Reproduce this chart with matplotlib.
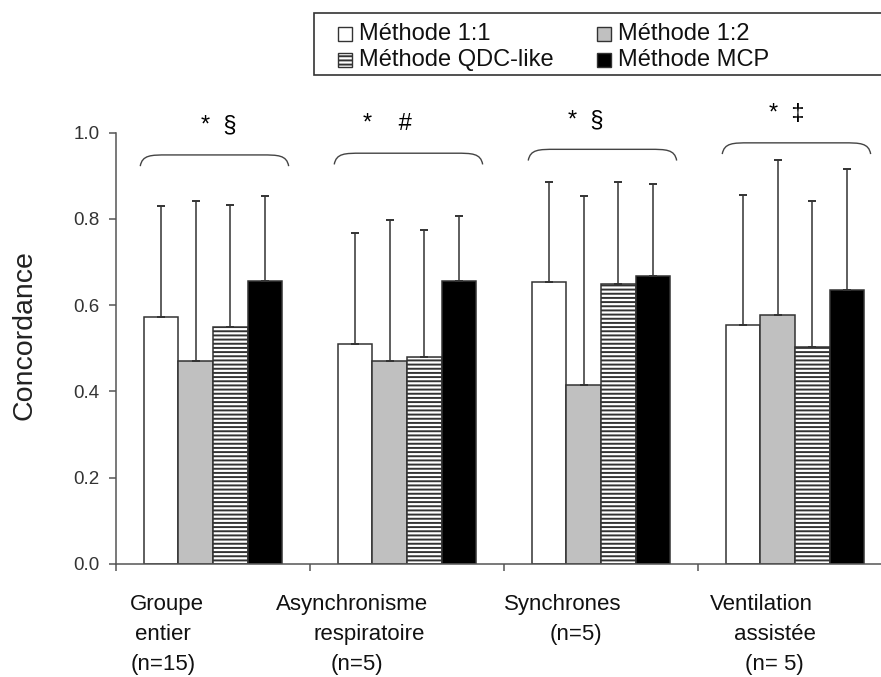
import numpy as np
import matplotlib
matplotlib.use('Agg')
import matplotlib.pyplot as plt
from matplotlib.patches import Rectangle, PathPatch
from matplotlib.path import Path

plt.rcParams['font.family'] = ['Liberation Sans', 'DejaVu Sans']
plt.rcParams['hatch.linewidth'] = 1.4
plt.rcParams['hatch.color'] = '#222222'

# data
groups = ['Groupe entier', 'Asynchronisme respiratoire', 'Synchrones', 'Ventilation assistée']
methods = ['Méthode 1:1', 'Méthode 1:2', 'Méthode QDC-like', 'Méthode MCP']
m_11 = [0.572, 0.509, 0.653, 0.553]
sd_11 = [0.258, 0.259, 0.233, 0.303]
m_12 = [0.470, 0.470, 0.415, 0.576]
sd_12 = [0.372, 0.328, 0.438, 0.360]
m_qdc = [0.549, 0.480, 0.648, 0.504]
sd_qdc = [0.283, 0.294, 0.238, 0.338]
m_mcp = [0.656, 0.656, 0.668, 0.635]
sd_mcp = [0.197, 0.150, 0.212, 0.280]

# significance marks above each group
sig_labels = ['*  §', '*    #', '*  §', '*  ‡']
sig_xoff = [0.03, -0.1, -0.08, -0.04]
bracket_top = [0.948, 0.952, 0.961, 0.976]

# category labels, one list of lines per group
label_lines = [['Groupe', 'entier', '(n=15)'],
               ['Asynchronisme', 'respiratoire', '(n=5)'],
               ['Synchrones', '(n=5)'],
               ['Ventilation', 'assistée', '(n= 5)']]
label_xoff = [[-0.237, -0.258, -0.258],
              [-0.286, -0.193, -0.260],
              [-0.196, -0.129],
              [-0.175, -0.103, -0.108]]

means = [m_11, m_12, m_qdc, m_mcp]
sds = [sd_11, sd_12, sd_qdc, sd_mcp]
faces = ['white', '#c0c0c0', 'white', 'black']
hatches = [None, None, '----', None]

W, H = 881, 677
fig = plt.figure(figsize=(W / 100.0, H / 100.0), dpi=100)
ax = fig.add_axes([116.0 / W, (H - 564.0) / H, 776.0 / W, 431.5 / H])

x = np.arange(len(groups))
bw = 0.179
for i in range(4):
    pos = x + (i - 1.5) * bw
    ax.bar(pos, means[i], bw, color=faces[i], edgecolor='#333333',
           linewidth=1.1, hatch=hatches[i], zorder=2)
    ax.errorbar(pos, means[i], yerr=[np.zeros(4), sds[i]], fmt='none',
                ecolor='#333333', elinewidth=1.1, capsize=2.8,
                capthick=1.4, zorder=3)

ax.set_xlim(-0.5, 3.5)
ax.set_ylim(0, 1.0)
ax.set_yticks(np.arange(0, 1.01, 0.2))
ax.set_yticklabels(['%.1f' % v for v in np.arange(0, 1.01, 0.2)])
ax.set_xticks(np.arange(-0.5, 3.6, 1.0))
ax.set_xticklabels([])
ax.spines['right'].set_color('none')
ax.spines['top'].set_color('none')
ax.spines['left'].set_color('#555555')
ax.spines['bottom'].set_color('#555555')
ax.spines['left'].set_linewidth(1.1)
ax.spines['bottom'].set_linewidth(1.1)
ax.tick_params(axis='y', direction='out', length=5, width=1.1,
               color='#555555', labelsize=13.5, labelcolor='#333333', pad=7)
ax.tick_params(axis='x', direction='out', length=5, width=1.1, color='#555555')
ax.set_ylabel('Concordance', fontsize=20.5, color='#222222')
ax.yaxis.set_label_coords(-0.101, 0.53)

# brackets and marks
for g in range(4):
    x0 = g - 0.375
    x1 = g + 0.39
    yt = bracket_top[g]
    yb = yt - 0.026
    dx = 0.14
    verts = [(x0, yb), (x0 + 0.01, yt), (x0 + dx * 0.4, yt), (x0 + dx, yt),
             (x1 - dx, yt),
             (x1 - dx * 0.4, yt), (x1 - 0.01, yt), (x1, yb)]
    codes = [Path.MOVETO, Path.CURVE4, Path.CURVE4, Path.CURVE4,
             Path.LINETO, Path.CURVE4, Path.CURVE4, Path.CURVE4]
    ax.add_patch(PathPatch(Path(verts, codes), fill=False, edgecolor='#444444',
                           linewidth=1.0, clip_on=False))
    ax.text(g + sig_xoff[g], yt + 0.068, sig_labels[g], ha='center', va='center',
            fontsize=17, clip_on=False)

# category labels under the axis
line_y = [-0.0927, -0.1645, -0.234]
for g in range(4):
    for k, txt in enumerate(label_lines[g]):
        ax.text(g + label_xoff[g][k], line_y[k], txt, ha='center', va='center',
                fontsize=16, color='#111111', transform=ax.get_xaxis_transform())

# legend box drawn by hand
box_l, box_t, box_b = 314, 13, 75
fig.patches.append(Rectangle((box_l / W, 1 - box_b / H), (W + 10 - box_l) / W,
                             (box_b - box_t) / H, transform=fig.transFigure,
                             facecolor='white', edgecolor='#333333', linewidth=1.2))
leg_cols = [338, 597]
leg_rows = [33.5, 60]
sq = 14
for i in range(4):
    cx = leg_cols[i % 2]
    cy = leg_rows[i // 2]
    fig.patches.append(Rectangle((cx / W, 1 - (cy + sq / 2.0) / H), sq / float(W), sq / float(H),
                                 transform=fig.transFigure, facecolor=faces[i],
                                 edgecolor='#333333', linewidth=1.0, hatch=hatches[i]))
    fig.text((cx + sq + 7) / W, 1 - cy / H, methods[i], ha='left', va='center',
             fontsize=17, color='#111111')

plt.savefig('out.png', dpi=100)
